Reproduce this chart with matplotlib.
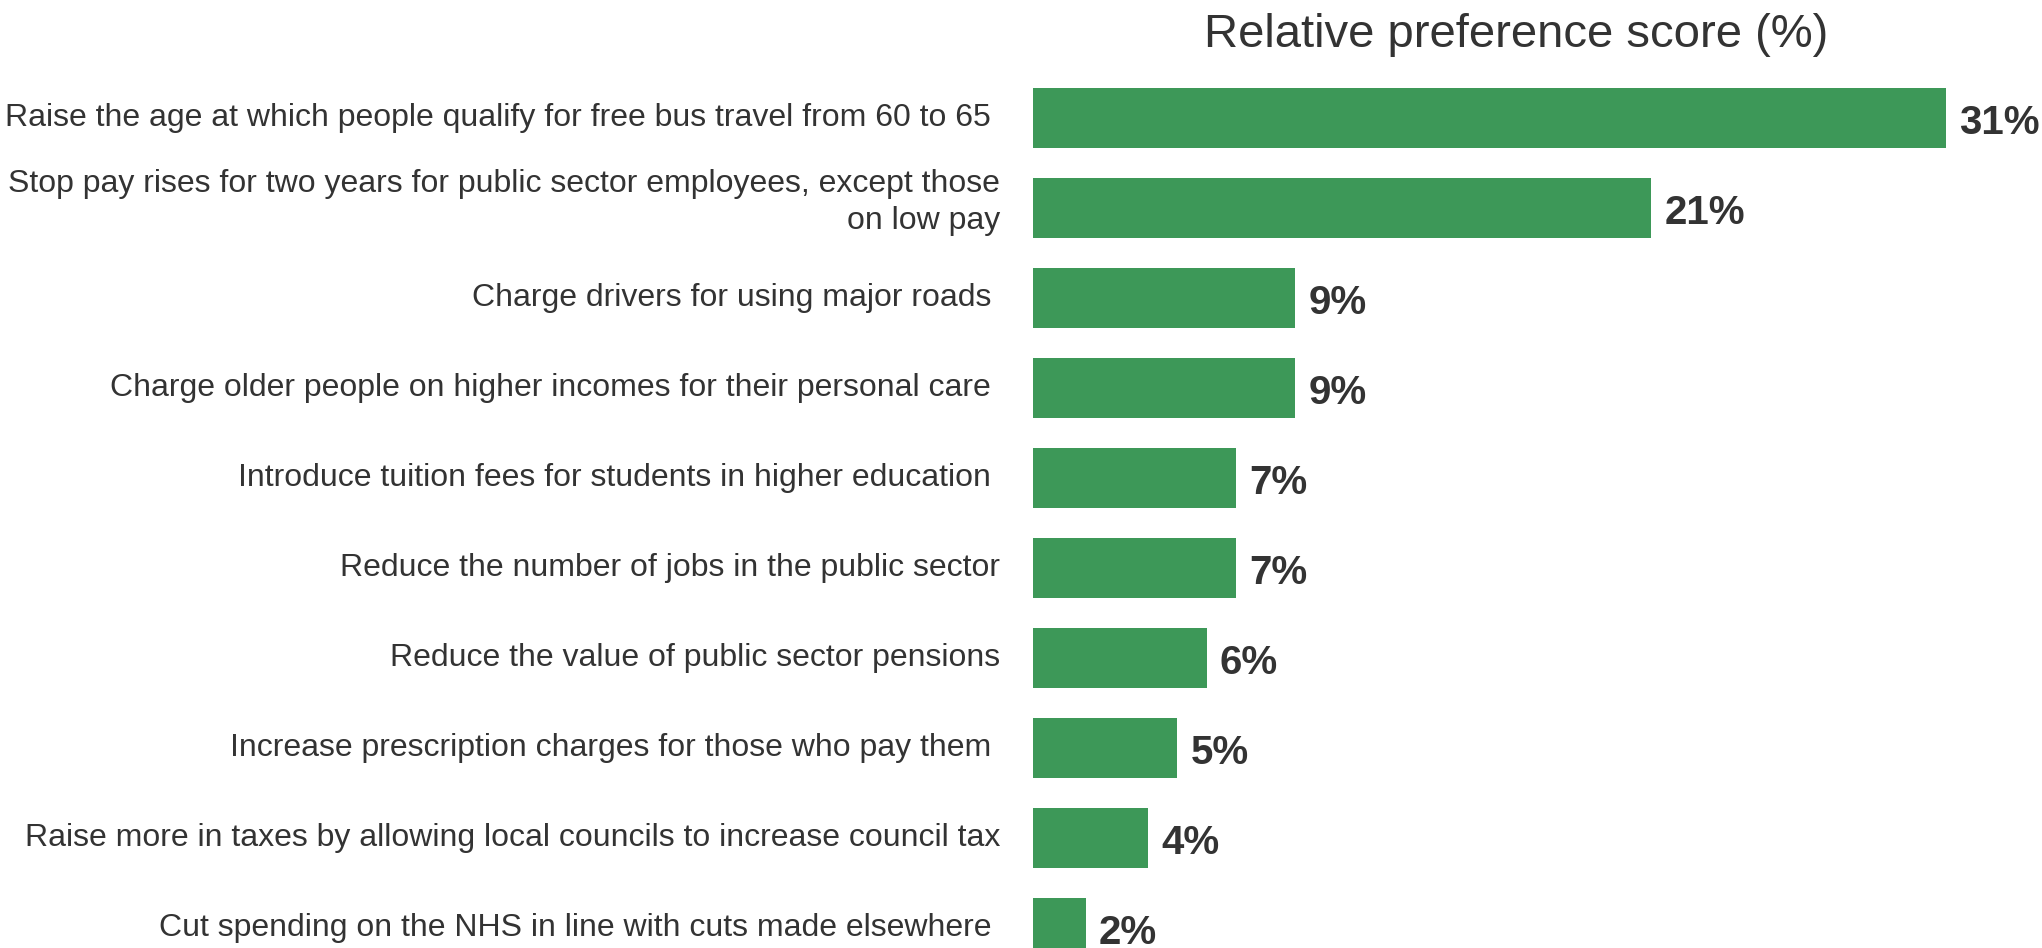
import matplotlib
matplotlib.use('Agg')
import matplotlib.pyplot as plt

plt.rcParams['font.family'] = ['Liberation Sans', 'DejaVu Sans']

categories = [
    'Raise the age at which people qualify for free bus travel from 60 to 65 ',
    'Stop pay rises for two years for public sector employees, except those\non low pay',
    'Charge drivers for using major roads ',
    'Charge older people on higher incomes for their personal care ',
    'Introduce tuition fees for students in higher education ',
    'Reduce the number of jobs in the public sector',
    'Reduce the value of public sector pensions',
    'Increase prescription charges for those who pay them ',
    'Raise more in taxes by allowing local councils to increase council tax',
    'Cut spending on the NHS in line with cuts made elsewhere ',
]
scores = [31.0, 21.0, 8.9, 8.9, 6.9, 6.9, 5.9, 4.9, 3.9, 1.8]
value_labels = ['31%', '21%', '9%', '9%', '7%', '7%', '6%', '5%', '4%', '2%']

title = 'Relative preference score (%)'
bar_color = '#3d9858'
text_color = '#333333'

W, H = 2042, 948
fig = plt.figure(figsize=(W / 100, H / 100), dpi=100)

# bars run from x=1033px, ~29.45px per percent; rows 89.9px apart, first at y=118.5px
px_per = 29.45
row = 89.9
left = 1033 / W
xmax = 34
ax_top = 118.5 - row * 0.5
ax_bot = ax_top + row * len(scores)
ax = fig.add_axes([left, 1 - ax_bot / H, xmax * px_per / W, (ax_bot - ax_top) / H])

y = list(range(len(scores)))
ax.barh(y, scores, height=60 / row, color=bar_color)
ax.set_xlim(0, xmax)
ax.set_ylim(len(scores) - 0.5, -0.5)
ax.axis('off')

for i, (v, lab) in enumerate(zip(scores, value_labels)):
    ax.annotate(lab, (v, i), xytext=(9.4, -11.5), textcoords='offset points',
                ha='left', va='baseline', fontsize=29, fontweight='bold',
                color=text_color, annotation_clip=False)

for i, cat in enumerate(categories):
    # wrapped labels sit a little above the bar centre in the original
    dy = 4.5 if '\n' in cat else 0
    ax.annotate(cat, (0, i), xytext=(-33 * 0.72, dy), textcoords='offset points',
                ha='right', va='center', fontsize=23, color=text_color,
                annotation_clip=False, linespacing=1.3, multialignment='right')

fig.text(1516 / W, 1 - 47 / H, title, ha='center', va='baseline',
         fontsize=34, color=text_color)

fig.savefig('out.png', dpi=100)
